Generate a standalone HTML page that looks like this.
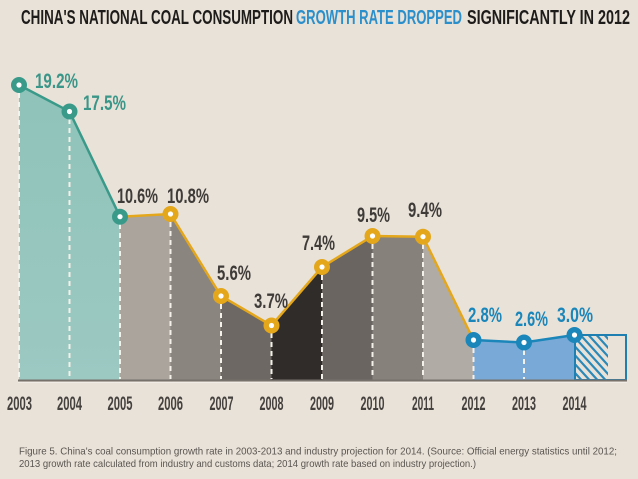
<!DOCTYPE html>
<html>
<head>
<meta charset="utf-8">
<style>
html,body{margin:0;padding:0;background:#e9e2d9;}
svg{display:block;}
.t{font-family:"Liberation Sans Narrow","Liberation Sans",sans-serif;font-weight:bold;}
.c{font-family:"Liberation Sans Narrow","Liberation Sans",sans-serif;}
</style>
</head>
<body>
<svg width="638" height="479" viewBox="0 0 638 479" xmlns="http://www.w3.org/2000/svg">
<defs>
<linearGradient id="teal" x1="0" y1="0" x2="0" y2="1">
<stop offset="0" stop-color="#8fc3b9"/>
<stop offset="1" stop-color="#9cc9c2"/>
</linearGradient>
<clipPath id="hc"><rect x="576" y="336" width="32" height="43"/></clipPath>
</defs>
<rect width="638" height="479" fill="#e9e2d9"/>

<!-- Title -->
<text class="t" x="21" y="24" font-size="20" fill="#1e1c1b" textLength="272" lengthAdjust="spacingAndGlyphs">CHINA'S NATIONAL COAL CONSUMPTION</text>
<text class="t" x="296" y="24" font-size="20" fill="#2b8fcb" textLength="166" lengthAdjust="spacingAndGlyphs">GROWTH RATE DROPPED</text>
<text class="t" x="467" y="24" font-size="20" fill="#1e1c1b" textLength="163" lengthAdjust="spacingAndGlyphs">SIGNIFICANTLY IN 2012</text>

<!-- Areas -->
<polygon points="19,85 69.5,111.5 120,216.7 120,380 19,380" fill="url(#teal)"/>
<polygon points="120,216.7 170.5,214 170.5,380 120,380" fill="#aaa49d"/>
<polygon points="170.5,214 221,296 221,380 170.5,380" fill="#8b857f"/>
<polygon points="221,296 271.5,325.5 271.5,380 221,380" fill="#6d6863"/>
<polygon points="271.5,325.5 322,267 322,380 271.5,380" fill="#302c29"/>
<polygon points="322,267 372.5,236 372.5,380 322,380" fill="#6a6560"/>
<polygon points="372.5,236 423,236.7 423,380 372.5,380" fill="#86817b"/>
<polygon points="423,236.7 473.5,340 473.5,380 423,380" fill="#b0aba4"/>
<polygon points="473.5,340 524,342.5 574.5,335 574.5,380 473.5,380" fill="#79a9d6"/>

<!-- Hatched projection box -->
<g clip-path="url(#hc)" stroke="#2a89b8" stroke-width="2.2">
<line x1="560" y1="330" x2="610" y2="385"/>
<line x1="568" y1="330" x2="618" y2="385"/>
<line x1="576" y1="330" x2="626" y2="385"/>
<line x1="584" y1="330" x2="634" y2="385"/>
<line x1="592" y1="330" x2="642" y2="385"/>
<line x1="600" y1="330" x2="650" y2="385"/>
<line x1="552" y1="330" x2="602" y2="385"/>
<line x1="544" y1="330" x2="594" y2="385"/>
<line x1="536" y1="330" x2="586" y2="385"/>
</g>
<rect x="575" y="335" width="51" height="45" fill="none" stroke="#1f7fb0" stroke-width="2"/>

<!-- Dashed verticals -->
<g stroke="#f4f0ea" stroke-width="2" stroke-dasharray="5,4">
<line x1="19" y1="93" x2="19" y2="379"/>
<line x1="69.5" y1="119" x2="69.5" y2="379"/>
<line x1="120" y1="224" x2="120" y2="379"/>
<line x1="170.5" y1="222" x2="170.5" y2="379"/>
<line x1="221" y1="304" x2="221" y2="379"/>
<line x1="271.5" y1="333" x2="271.5" y2="379"/>
<line x1="322" y1="275" x2="322" y2="379"/>
<line x1="372.5" y1="244" x2="372.5" y2="379"/>
<line x1="423" y1="244" x2="423" y2="379"/>
<line x1="473.5" y1="348" x2="473.5" y2="379"/>
<line x1="524" y1="350" x2="524" y2="379"/>
</g>

<!-- Baseline -->
<line x1="18" y1="380.5" x2="627" y2="380.5" stroke="#77716b" stroke-width="2"/>
<line x1="18" y1="382.5" x2="627" y2="382.5" stroke="#f1ece5" stroke-width="1"/>

<!-- Lines -->
<polyline points="19,85 69.5,111.5 120,216.7" fill="none" stroke="#3a9a8a" stroke-width="2.5"/>
<polyline points="120,216.7 170.5,214 221,296 271.5,325.5 322,267 372.5,236 423,236.7 473.5,340" fill="none" stroke="#e4a71b" stroke-width="2.5"/>
<polyline points="473.5,340 524,342.5 574.5,335" fill="none" stroke="#1a86b9" stroke-width="2.5"/>

<!-- Markers -->
<g stroke-width="0">
<circle cx="19" cy="85" r="8" fill="#3a9a8a"/>
<circle cx="69.5" cy="111.5" r="8" fill="#3a9a8a"/>
<circle cx="120" cy="216.7" r="8" fill="#3a9a8a"/>
<circle cx="170.5" cy="214" r="8" fill="#e4a71b"/>
<circle cx="221" cy="296" r="8" fill="#e4a71b"/>
<circle cx="271.5" cy="325.5" r="8" fill="#e4a71b"/>
<circle cx="322" cy="267" r="8" fill="#e4a71b"/>
<circle cx="372.5" cy="236" r="8" fill="#e4a71b"/>
<circle cx="423" cy="236.7" r="8" fill="#e4a71b"/>
<circle cx="473.5" cy="340" r="8" fill="#1a86b9"/>
<circle cx="524" cy="342.5" r="8" fill="#1a86b9"/>
<circle cx="574.5" cy="335" r="8" fill="#1a86b9"/>
</g>
<g fill="#ffffff">
<circle cx="19" cy="85" r="2.6"/>
<circle cx="69.5" cy="111.5" r="2.6"/>
<circle cx="120" cy="216.7" r="2.6"/>
<circle cx="170.5" cy="214" r="2.6"/>
<circle cx="221" cy="296" r="2.6"/>
<circle cx="271.5" cy="325.5" r="2.6"/>
<circle cx="322" cy="267" r="2.6"/>
<circle cx="372.5" cy="236" r="2.6"/>
<circle cx="423" cy="236.7" r="2.6"/>
<circle cx="473.5" cy="340" r="2.6"/>
<circle cx="524" cy="342.5" r="2.6"/>
<circle cx="574.5" cy="335" r="2.6"/>
</g>

<!-- Value labels -->
<g class="t" font-size="21">
<text x="35" y="88" fill="#3a9688" textLength="43" lengthAdjust="spacingAndGlyphs">19.2%</text>
<text x="83" y="110" fill="#3a9688" textLength="43" lengthAdjust="spacingAndGlyphs">17.5%</text>
<text x="117" y="203" fill="#3e3b38" textLength="41" lengthAdjust="spacingAndGlyphs">10.6%</text>
<text x="167" y="203" fill="#3e3b38" textLength="42" lengthAdjust="spacingAndGlyphs">10.8%</text>
<text x="217" y="280" fill="#3e3b38" textLength="34" lengthAdjust="spacingAndGlyphs">5.6%</text>
<text x="254" y="308" fill="#3e3b38" textLength="34" lengthAdjust="spacingAndGlyphs">3.7%</text>
<text x="302" y="250" fill="#3e3b38" textLength="33" lengthAdjust="spacingAndGlyphs">7.4%</text>
<text x="357" y="222" fill="#3e3b38" textLength="33" lengthAdjust="spacingAndGlyphs">9.5%</text>
<text x="408" y="217" fill="#3e3b38" textLength="34" lengthAdjust="spacingAndGlyphs">9.4%</text>
<text x="468" y="322" fill="#1a86b9" textLength="34" lengthAdjust="spacingAndGlyphs">2.8%</text>
<text x="515" y="326" fill="#1a86b9" textLength="33" lengthAdjust="spacingAndGlyphs">2.6%</text>
<text x="557" y="322" fill="#1a86b9" textLength="36" lengthAdjust="spacingAndGlyphs">3.0%</text>
</g>

<!-- Year labels -->
<g class="t" font-size="19" fill="#45413e" text-anchor="middle">
<text x="19.5" y="410" textLength="25" lengthAdjust="spacingAndGlyphs">2003</text>
<text x="69.5" y="410" textLength="25" lengthAdjust="spacingAndGlyphs">2004</text>
<text x="120" y="410" textLength="25" lengthAdjust="spacingAndGlyphs">2005</text>
<text x="170.5" y="410" textLength="25" lengthAdjust="spacingAndGlyphs">2006</text>
<text x="221.5" y="410" textLength="24" lengthAdjust="spacingAndGlyphs">2007</text>
<text x="271.5" y="410" textLength="24" lengthAdjust="spacingAndGlyphs">2008</text>
<text x="322" y="410" textLength="24" lengthAdjust="spacingAndGlyphs">2009</text>
<text x="372.5" y="410" textLength="24" lengthAdjust="spacingAndGlyphs">2010</text>
<text x="423" y="410" textLength="22" lengthAdjust="spacingAndGlyphs">2011</text>
<text x="473.5" y="410" textLength="24" lengthAdjust="spacingAndGlyphs">2012</text>
<text x="524" y="410" textLength="24" lengthAdjust="spacingAndGlyphs">2013</text>
<text x="574.5" y="410" textLength="24" lengthAdjust="spacingAndGlyphs">2014</text>
</g>

<!-- Caption -->
<g class="c" font-size="10.5" fill="#5a5550">
<text x="19" y="454.5" textLength="598" lengthAdjust="spacingAndGlyphs">Figure 5. China's coal consumption growth rate in 2003-2013 and industry projection for 2014. (Source: Official energy statistics until 2012;</text>
<text x="19" y="467" textLength="457" lengthAdjust="spacingAndGlyphs">2013 growth rate calculated from industry and customs data; 2014 growth rate based on industry projection.)</text>
</g>
</svg>
</body>
</html>
